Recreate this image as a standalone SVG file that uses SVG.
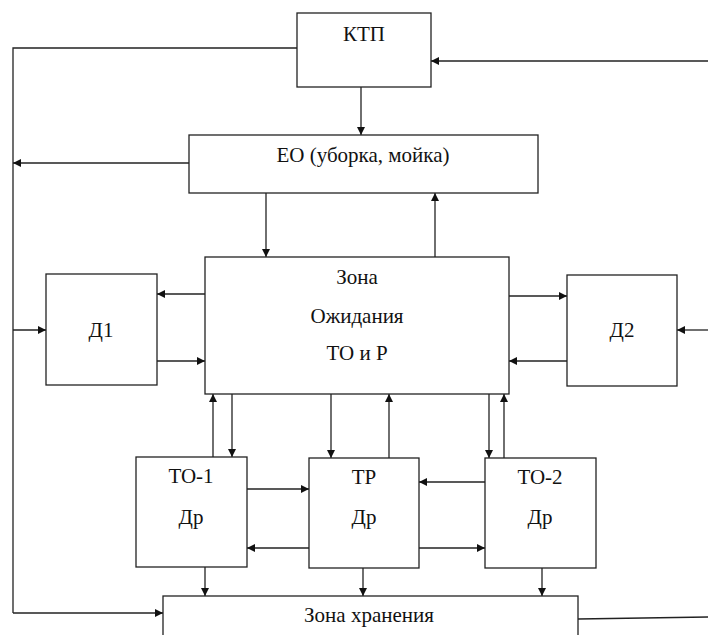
<svg xmlns="http://www.w3.org/2000/svg" width="708" height="635" viewBox="0 0 708 635" font-family="Liberation Serif, serif">
  <style>
    .box { fill: #fff; stroke: #222; stroke-width: 1.3; }
    .ln { fill: none; stroke: #222; stroke-width: 1.3; }
    .lbl { font-size: 21px; fill: #111; text-anchor: middle; }
  </style>
  <defs>
    <marker id="arr" viewBox="0 0 10 10" refX="10" refY="5" markerWidth="8" markerHeight="8" markerUnits="userSpaceOnUse" orient="auto">
      <path d="M0,0 L10,5 L0,10 z" fill="#111"/>
    </marker>
  </defs>
  <rect width="708" height="635" fill="#fff"/>

  <g id="connectors">
    <!-- outer left bus -->
    <polyline class="ln" points="297,48 13,48 13,613" />
    <line class="ln" x1="13" y1="613" x2="163" y2="613" marker-end="url(#arr)"/>
    <line class="ln" x1="189" y1="163" x2="13" y2="163" marker-end="url(#arr)"/>
    <line class="ln" x1="13" y1="330" x2="46" y2="330" marker-end="url(#arr)"/>
    <!-- right side inputs -->
    <line class="ln" x1="708" y1="61" x2="431" y2="61" marker-end="url(#arr)"/>
    <line class="ln" x1="708" y1="330" x2="677" y2="330" marker-end="url(#arr)"/>
    <line class="ln" x1="578" y1="619" x2="708" y2="617"/>
    <!-- КТП / ЕО -->
    <line class="ln" x1="361" y1="87" x2="361" y2="135" marker-end="url(#arr)"/>
    <line class="ln" x1="266" y1="193" x2="266" y2="257" marker-end="url(#arr)"/>
    <line class="ln" x1="435" y1="257" x2="435" y2="193" marker-end="url(#arr)"/>
    <!-- Д1 -->
    <line class="ln" x1="205" y1="294" x2="157" y2="294" marker-end="url(#arr)"/>
    <line class="ln" x1="157" y1="361" x2="205" y2="361" marker-end="url(#arr)"/>
    <!-- Д2 -->
    <line class="ln" x1="509" y1="296" x2="567" y2="296" marker-end="url(#arr)"/>
    <line class="ln" x1="567" y1="361" x2="509" y2="361" marker-end="url(#arr)"/>
    <!-- zone to posts -->
    <line class="ln" x1="213" y1="457" x2="213" y2="394" marker-end="url(#arr)"/>
    <line class="ln" x1="232" y1="394" x2="232" y2="457" marker-end="url(#arr)"/>
    <line class="ln" x1="331" y1="394" x2="331" y2="458" marker-end="url(#arr)"/>
    <line class="ln" x1="389" y1="458" x2="389" y2="394" marker-end="url(#arr)"/>
    <line class="ln" x1="489" y1="394" x2="489" y2="458" marker-end="url(#arr)"/>
    <line class="ln" x1="504" y1="458" x2="504" y2="394" marker-end="url(#arr)"/>
    <!-- between posts -->
    <line class="ln" x1="247" y1="489" x2="309" y2="489" marker-end="url(#arr)"/>
    <line class="ln" x1="309" y1="548" x2="247" y2="548" marker-end="url(#arr)"/>
    <line class="ln" x1="485" y1="482" x2="419" y2="482" marker-end="url(#arr)"/>
    <line class="ln" x1="419" y1="548" x2="485" y2="548" marker-end="url(#arr)"/>
    <!-- posts to storage -->
    <line class="ln" x1="205" y1="567" x2="205" y2="596" marker-end="url(#arr)"/>
    <line class="ln" x1="363" y1="568" x2="363" y2="596" marker-end="url(#arr)"/>
    <line class="ln" x1="542" y1="568" x2="542" y2="596" marker-end="url(#arr)"/>
  </g>

  <g id="ktp">
    <rect class="box" x="297" y="13" width="134" height="74"/>
    <text class="lbl" x="364" y="41">КТП</text>
  </g>
  <g id="eo">
    <rect class="box" x="189" y="135" width="349" height="58"/>
    <text class="lbl" x="363" y="162">ЕО (уборка, мойка)</text>
  </g>
  <g id="zona-ozhidaniya">
    <rect class="box" x="205" y="257" width="304" height="137"/>
    <text class="lbl" x="357" y="284">Зона</text>
    <text class="lbl" x="357" y="323">Ожидания</text>
    <text class="lbl" x="357" y="360">ТО и Р</text>
  </g>
  <g id="d1">
    <rect class="box" x="46" y="274" width="111" height="111"/>
    <text class="lbl" x="101" y="337">Д1</text>
  </g>
  <g id="d2">
    <rect class="box" x="567" y="275" width="110" height="111"/>
    <text class="lbl" x="622" y="337">Д2</text>
  </g>
  <g id="to1">
    <rect class="box" x="136" y="457" width="111" height="110"/>
    <text class="lbl" x="191" y="483">ТО-1</text>
    <text class="lbl" x="191" y="524">Др</text>
  </g>
  <g id="tr">
    <rect class="box" x="309" y="458" width="110" height="110"/>
    <text class="lbl" x="364" y="484">ТР</text>
    <text class="lbl" x="364" y="524">Др</text>
  </g>
  <g id="to2">
    <rect class="box" x="485" y="458" width="111" height="110"/>
    <text class="lbl" x="540" y="484">ТО-2</text>
    <text class="lbl" x="540" y="524">Др</text>
  </g>
  <g id="zona-hraneniya">
    <rect class="box" x="163" y="596" width="415" height="60"/>
    <text class="lbl" x="369" y="622">Зона хранения</text>
  </g>
</svg>
